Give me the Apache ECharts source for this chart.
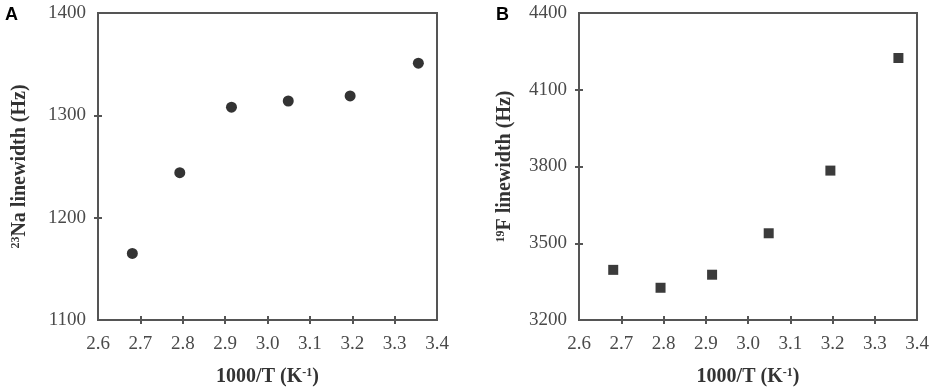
<!DOCTYPE html>
<html>
<head>
<meta charset="utf-8">
<script src="https://cdn.jsdelivr.net/npm/echarts@6/dist/echarts.min.js"></script>
<style>
  html, body { margin: 0; padding: 0; background: #fff; }
  #chart { width: 941px; height: 392px; }
</style>
</head>
<body>
<div id="chart"></div>
<script>
// 1000/T values (K^-1), shared by both panels
const invTemp = [2.681, 2.793, 2.915, 3.049, 3.195, 3.356];
// panel A: 23Na linewidth (Hz)
const naWidth = [1165, 1244, 1308, 1314, 1319, 1351];
// panel B: 19F linewidth (Hz)
const fWidth = [3396, 3326, 3377, 3539, 3784, 4224];

const xLabels = [2.6, 2.7, 2.8, 2.9, 3.0, 3.1, 3.2, 3.3, 3.4];
const xTicks = [2.7, 2.8, 2.9, 3.0, 3.1, 3.2, 3.3];
const naLabels = [1100, 1200, 1300, 1400];
const naTicks = [1200, 1300];
const fLabels = [3200, 3500, 3800, 4100, 4400];
const fTicks = [3500, 3800, 4100];

const axisColor = "#555";
const labelColor = "#4a4a4a";
const titleColor = "#333";
const serif = "'Liberation Serif', 'Times New Roman', serif";

const chart = echarts.init(document.getElementById("chart"), null, { renderer: "canvas" });

const xName = "1000/T (K{sup|-1})";
const nameRich = {
  sup: { fontSize: 12, fontWeight: "bold", fontFamily: serif, color: titleColor, verticalAlign: "top", padding: [0, 0, 8, 0] },
};

function xAxes(grid) {
  return [
    {
      type: "value", gridIndex: grid, position: "bottom", min: 2.6, max: 3.4,
      name: xName, nameLocation: "middle", nameGap: 47,
      nameTextStyle: { fontFamily: serif, fontSize: 20, fontWeight: "bold", color: titleColor, rich: nameRich },
      axisLine: { lineStyle: { color: axisColor, width: 2 } },
      axisTick: { customValues: xTicks, length: 4, lineStyle: { color: axisColor, width: 2 } },
      axisLabel: {
        customValues: xLabels, margin: 15, color: labelColor, fontFamily: serif, fontSize: 19,
        formatter: (v) => v.toFixed(1),
      },
      splitLine: { show: false },
    },
    {
      type: "value", gridIndex: grid, position: "bottom", min: 2.6, max: 3.4,
      axisLine: { show: false },
      axisTick: { customValues: xTicks, inside: true, length: 4, lineStyle: { color: axisColor, width: 2 } },
      axisLabel: { show: false },
      splitLine: { show: false },
    },
  ];
}

function yAxes(grid, min, max, labels, ticks, name, gap) {
  return [
    {
      type: "value", gridIndex: grid, position: "left", min: min, max: max,
      name: name, nameLocation: "middle", nameGap: gap, nameRotate: 90,
      nameTextStyle: { fontFamily: serif, fontSize: 20, fontWeight: "bold", color: titleColor, rich: nameRich },
      axisLine: { lineStyle: { color: axisColor, width: 2 } },
      axisTick: { customValues: ticks, length: 4, lineStyle: { color: axisColor, width: 2 } },
      axisLabel: {
        customValues: labels, margin: 12, color: labelColor, fontFamily: serif, fontSize: 19,
        formatter: (v) => String(v),
      },
      splitLine: { show: false },
    },
    {
      type: "value", gridIndex: grid, position: "left", min: min, max: max,
      axisLine: { show: false },
      axisTick: { customValues: ticks, inside: true, length: 4, lineStyle: { color: axisColor, width: 2 } },
      axisLabel: { show: false },
      splitLine: { show: false },
    },
  ];
}

const option = {
  backgroundColor: "#fff",
  animation: false,
  graphic: [
    { type: "text", left: 5, top: 6, style: { text: "A", fontFamily: "'Liberation Sans', Arial, sans-serif", fontSize: 18, fontWeight: "bold", fill: "#000" } },
    { type: "text", left: 496, top: 6, style: { text: "B", fontFamily: "'Liberation Sans', Arial, sans-serif", fontSize: 18, fontWeight: "bold", fill: "#000" } },
  ],
  grid: [
    { left: 98, top: 13, width: 339, height: 308, show: true, borderColor: axisColor, borderWidth: 2, backgroundColor: "transparent" },
    { left: 579, top: 13, width: 338, height: 308, show: true, borderColor: axisColor, borderWidth: 2, backgroundColor: "transparent" },
  ],
  xAxis: [...xAxes(0), ...xAxes(1)],
  yAxis: [
    ...yAxes(0, 1100, 1400, naLabels, naTicks, "{sup|23}Na linewidth (Hz)", 68),
    ...yAxes(1, 3200, 4400, fLabels, fTicks, "{sup|19}F linewidth (Hz)", 64),
  ],
  series: [
    {
      type: "scatter", xAxisIndex: 0, yAxisIndex: 0,
      symbol: "circle", symbolSize: 11,
      itemStyle: { color: "#000" },
      data: invTemp.map((x, i) => [x, naWidth[i]]),
    },
    {
      type: "scatter", xAxisIndex: 2, yAxisIndex: 2,
      symbol: "rect", symbolSize: 10,
      itemStyle: { color: "#0a0a0a" },
      data: invTemp.map((x, i) => [x, fWidth[i]]),
    },
  ],
};

chart.setOption(option);

window.addEventListener("resize", () => chart.resize());
</script>
</body>
</html>
